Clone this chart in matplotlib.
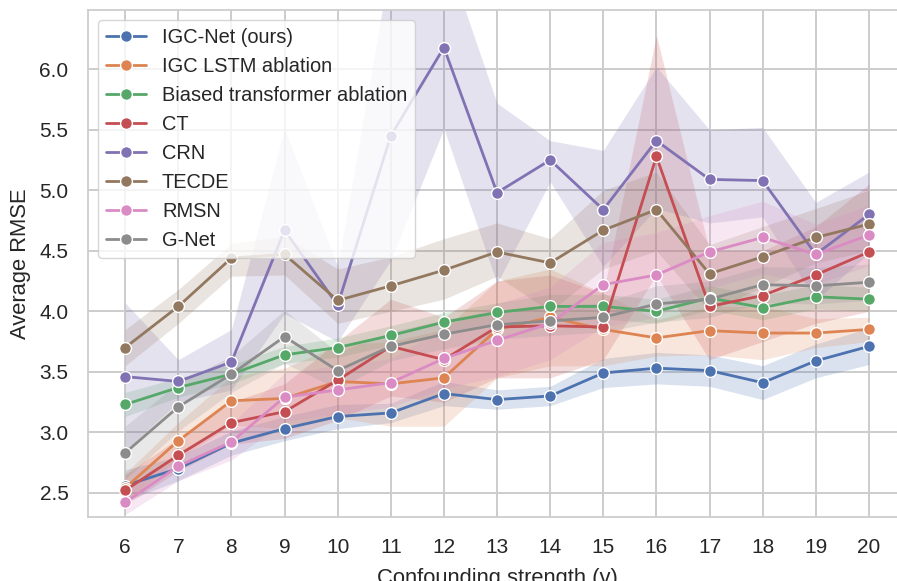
import numpy as np
import matplotlib
matplotlib.use("Agg")
import matplotlib.pyplot as plt
import seaborn as sns

# =========================
# Data
# =========================
gamma = [6, 7, 8, 9, 10, 11, 12, 13, 14, 15, 16, 17, 18, 19, 20]

igc_net = [2.56, 2.70, 2.91, 3.03, 3.13, 3.16, 3.32, 3.27, 3.30, 3.49, 3.53, 3.51, 3.41, 3.59, 3.71]
igc_net_lo = [2.43, 2.60, 2.81, 2.93, 3.03, 3.08, 3.22, 3.19, 3.22, 3.37, 3.40, 3.38, 3.27, 3.45, 3.56]
igc_net_hi = [2.69, 2.80, 3.01, 3.13, 3.23, 3.24, 3.42, 3.35, 3.38, 3.61, 3.66, 3.64, 3.55, 3.73, 3.86]

lstm = [2.54, 2.93, 3.26, 3.28, 3.42, 3.40, 3.45, 3.85, 3.95, 3.85, 3.78, 3.84, 3.82, 3.82, 3.85]
lstm_lo = [2.42, 2.78, 3.06, 3.03, 3.12, 3.05, 3.05, 3.45, 3.55, 3.55, 3.63, 3.64, 3.60, 3.70, 3.75]
lstm_hi = [2.66, 3.08, 3.46, 3.53, 3.72, 3.75, 3.85, 4.25, 4.35, 4.15, 3.93, 4.04, 4.04, 3.94, 3.95]

biased = [3.23, 3.37, 3.48, 3.64, 3.70, 3.80, 3.91, 3.99, 4.04, 4.04, 4.00, 4.11, 4.03, 4.12, 4.10]
biased_lo = [3.13, 3.29, 3.40, 3.57, 3.62, 3.72, 3.83, 3.91, 3.94, 3.94, 3.90, 4.01, 3.93, 4.02, 4.00]
biased_hi = [3.33, 3.45, 3.56, 3.71, 3.78, 3.88, 3.99, 4.07, 4.14, 4.14, 4.10, 4.21, 4.13, 4.22, 4.20]

ct = [2.52, 2.81, 3.08, 3.17, 3.43, 3.71, 3.60, 3.87, 3.88, 3.87, 5.28, 4.04, 4.13, 4.30, 4.49]
ct_lo = [2.40, 2.68, 2.90, 2.95, 3.10, 3.30, 3.25, 3.45, 3.45, 3.60, 4.30, 3.60, 3.75, 3.90, 4.00]
ct_hi = [2.65, 2.95, 3.25, 3.40, 3.75, 4.10, 3.95, 4.25, 4.30, 4.15, 6.28, 4.50, 4.50, 4.70, 5.05]

crn = [3.46, 3.42, 3.58, 4.67, 4.05, 5.45, 6.18, 4.98, 5.25, 4.84, 5.41, 5.09, 5.08, 4.47, 4.80]
crn_lo = [2.85, 3.25, 3.35, 3.98, 3.75, 4.42, 5.51, 4.23, 5.07, 4.37, 4.85, 4.73, 4.78, 4.09, 4.48]
crn_hi = [4.07, 3.60, 3.85, 5.51, 4.37, 6.90, 7.00, 5.72, 5.41, 5.33, 6.02, 5.50, 5.52, 4.90, 5.15]

tecde = [3.70, 4.04, 4.44, 4.47, 4.09, 4.21, 4.34, 4.49, 4.40, 4.67, 4.84, 4.31, 4.45, 4.61, 4.72]
tecde_lo = [3.55, 3.90, 4.29, 4.30, 3.90, 4.00, 4.10, 4.29, 4.00, 4.35, 4.50, 4.00, 4.20, 4.40, 4.50]
tecde_hi = [3.85, 4.18, 4.56, 4.62, 4.35, 4.45, 4.60, 4.73, 4.60, 5.00, 5.15, 4.55, 4.70, 4.85, 5.00]

rmsn = [2.42, 2.72, 2.92, 3.29, 3.35, 3.41, 3.61, 3.76, 3.90, 4.22, 4.30, 4.49, 4.61, 4.47, 4.63]
rmsn_lo = [2.32, 2.60, 2.77, 3.09, 3.15, 3.21, 3.36, 3.46, 3.60, 3.87, 3.95, 4.19, 4.31, 4.22, 4.38]
rmsn_hi = [2.52, 2.84, 3.07, 3.49, 3.55, 3.61, 3.86, 4.06, 4.20, 4.57, 4.65, 4.79, 4.91, 4.72, 4.88]

gnet = [2.83, 3.21, 3.48, 3.79, 3.51, 3.71, 3.81, 3.89, 3.92, 3.95, 4.06, 4.10, 4.22, 4.21, 4.24]
gnet_lo = [2.61, 3.01, 3.33, 3.57, 3.36, 3.59, 3.69, 3.77, 3.80, 3.83, 3.91, 3.95, 4.07, 4.06, 4.09]
gnet_hi = [3.05, 3.41, 3.63, 4.01, 3.66, 3.83, 3.93, 4.01, 4.04, 4.07, 4.21, 4.25, 4.37, 4.36, 4.39]

labels = ["IGC-Net (ours)", "IGC LSTM ablation", "Biased transformer ablation",
          "CT", "CRN", "TECDE", "RMSN", "G-Net"]

# =========================
# Style
# =========================
sns.set_theme(style="whitegrid", font_scale=1.36)
plt.rcParams["font.family"] = ["Liberation Sans", "DejaVu Sans"]
plt.rcParams["grid.linewidth"] = 1.4
plt.rcParams["xtick.major.pad"] = 9
plt.rcParams["ytick.major.pad"] = 8
colors = sns.color_palette("deep", 8)

series = [
    (igc_net, igc_net_lo, igc_net_hi),
    (lstm, lstm_lo, lstm_hi),
    (biased, biased_lo, biased_hi),
    (ct, ct_lo, ct_hi),
    (crn, crn_lo, crn_hi),
    (tecde, tecde_lo, tecde_hi),
    (rmsn, rmsn_lo, rmsn_hi),
    (gnet, gnet_lo, gnet_hi),
]

# =========================
# Plot
# =========================
fig = plt.figure(figsize=(8.97, 5.81), dpi=100)
ax = fig.add_axes([0.0981, 0.1102, 0.912, 0.8726])

for (mean, lo, hi), label, c in zip(series, labels, colors):
    ax.plot(gamma, mean, color=c, label=label, lw=2.0, marker="o",
            markersize=8.5, markeredgecolor="white", markeredgewidth=1.0)
    ax.fill_between(gamma, lo, hi, color=c, alpha=0.2, linewidth=0)

ax.set_xlim(5.3, 20.7)
ax.set_ylim(2.3, 6.49)
ax.set_xticks(gamma)
ax.tick_params(labelsize=15)
ax.set_xlabel("Confounding strength (γ)", fontsize=15.8, labelpad=8)
ax.set_ylabel("Average RMSE", fontsize=15.8, labelpad=6)
ax.legend(loc="upper left", fontsize=14.4)

fig.savefig("out.png", dpi=100)
